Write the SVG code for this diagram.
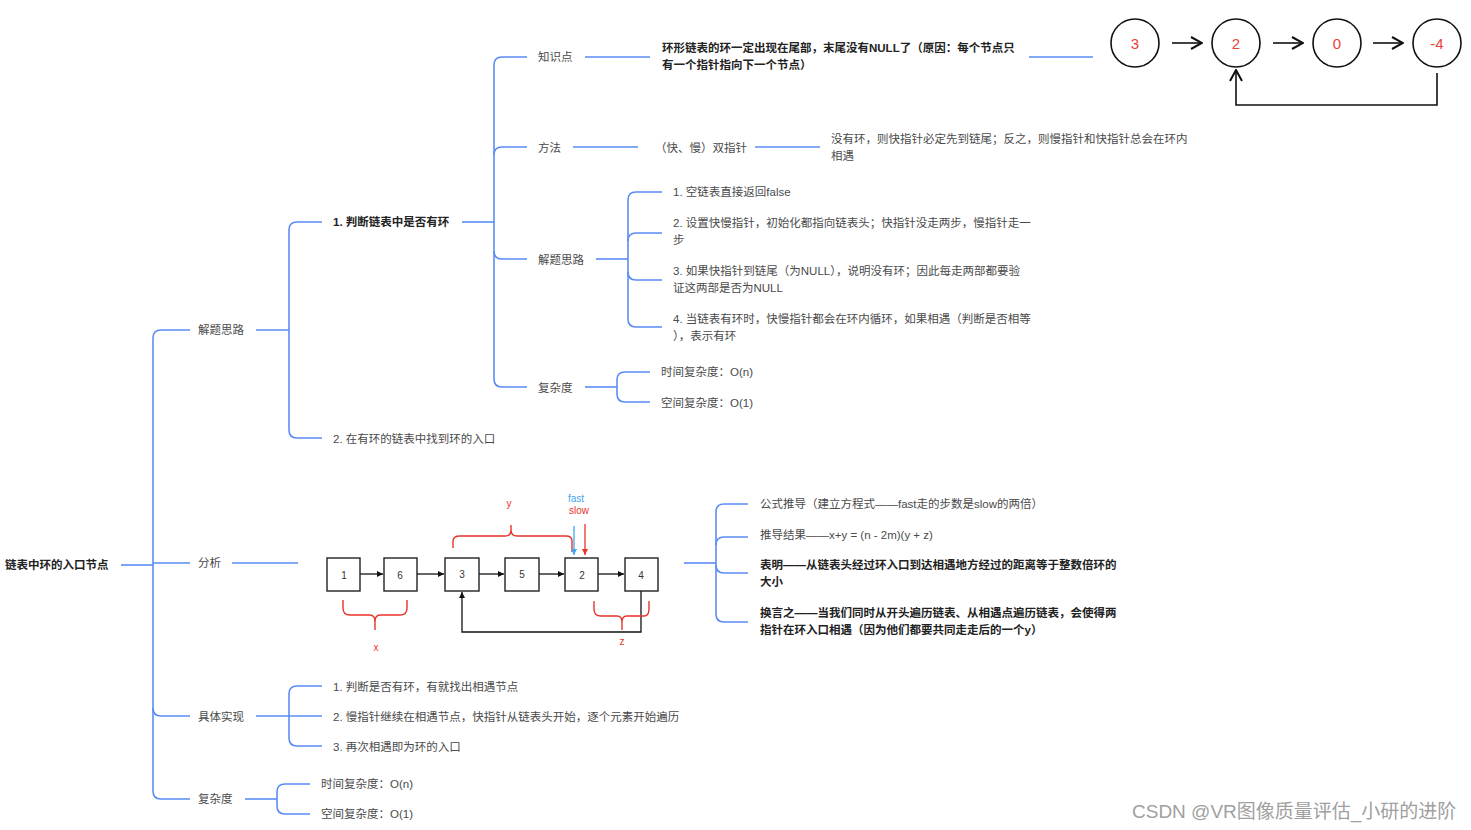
<svg xmlns="http://www.w3.org/2000/svg" width="1471" height="830" viewBox="0 0 1471 830">
<defs>
<style>
.t{font-family:"Liberation Sans","Noto Sans CJK SC",sans-serif;font-size:11.5px;fill:#4a4a4a;dominant-baseline:central}
.b{font-weight:bold;fill:#222}
.c{fill:none;stroke:#5b8cf5;stroke-width:1.6}
.k{fill:none;stroke:#111;stroke-width:1.6}
.num{font-family:"Liberation Sans","Noto Sans CJK SC",sans-serif;font-size:15px;fill:#e8423b;text-anchor:middle;dominant-baseline:central}
.bx{fill:#fff;stroke:#222;stroke-width:1.4}
.bn{font-family:"Liberation Sans",sans-serif;font-size:10px;fill:#333;text-anchor:middle;dominant-baseline:central}
.red{fill:none;stroke:#e8332a;stroke-width:1.4}
.lab{font-family:"Liberation Sans",sans-serif;font-size:10px;fill:#e8332a;text-anchor:middle}
</style>
<marker id="chev2" viewBox="0 0 14 14" refX="13" refY="7" markerWidth="14" markerHeight="14" markerUnits="userSpaceOnUse" orient="auto">
<path d="M2,1 L13,7 L2,13" fill="none" stroke="#111" stroke-width="2"/>
</marker>
<marker id="tri" viewBox="0 0 8 8" refX="8" refY="4" markerWidth="6" markerHeight="6" markerUnits="userSpaceOnUse" orient="auto">
<path d="M0,0 L8,4 L0,8 Z" fill="#111"/>
</marker>
<marker id="triB" viewBox="0 0 8 8" refX="8" refY="4" markerWidth="6" markerHeight="6" markerUnits="userSpaceOnUse" orient="auto">
<path d="M0,0 L8,4 L0,8 Z" fill="#3fa7f0"/>
</marker>
<marker id="triR" viewBox="0 0 8 8" refX="8" refY="4" markerWidth="6" markerHeight="6" markerUnits="userSpaceOnUse" orient="auto">
<path d="M0,0 L8,4 L0,8 Z" fill="#e8332a"/>
</marker>
</defs>
<rect width="1471" height="830" fill="#fff"/>

<g id="connectors">
<path class="c" d="M121,565 H153"/>
<path class="c" d="M153,338 V791"/>
<path class="c" d="M153,338 Q153,330 161,330 H190"/>
<path class="c" d="M153,563 H190"/>
<path class="c" d="M153,708 Q153,716 161,716 H190"/>
<path class="c" d="M153,791 Q153,799 161,799 H190"/>
<path class="c" d="M256,330 H289"/>
<path class="c" d="M289,230 V430"/>
<path class="c" d="M289,230 Q289,222 297,222 H322"/>
<path class="c" d="M289,430 Q289,438 297,438 H322"/>
<path class="c" d="M462,222 H494"/>
<path class="c" d="M494,65 V379"/>
<path class="c" d="M494,65 Q494,57 502,57 H527"/>
<path class="c" d="M494,155 Q494,147 502,147 H527"/>
<path class="c" d="M494,251 Q494,259 502,259 H527"/>
<path class="c" d="M494,379 Q494,387 502,387 H527"/>
<path class="c" d="M585,57 H650"/>
<path class="c" d="M1029,57 H1093"/>
<path class="c" d="M573,147 H638"/>
<path class="c" d="M755,147 H820"/>
<path class="c" d="M596,259 H628"/>
<path class="c" d="M628,200 V319"/>
<path class="c" d="M628,200 Q628,192 636,192 H662"/>
<path class="c" d="M628,241 Q628,233 636,233 H662"/>
<path class="c" d="M628,272 Q628,280 636,280 H662"/>
<path class="c" d="M628,319 Q628,327 636,327 H662"/>
<path class="c" d="M585,387 H617"/>
<path class="c" d="M617,380 Q617,372 625,372 H650"/>
<path class="c" d="M617,380 V394"/>
<path class="c" d="M617,394 Q617,402 625,402 H650"/>
<path class="c" d="M232,563 H298"/>
<path class="c" d="M684,563 H716"/>
<path class="c" d="M716,512 V614"/>
<path class="c" d="M716,512 Q716,504 724,504 H748"/>
<path class="c" d="M716,545 Q716,537 724,537 H748"/>
<path class="c" d="M716,565 Q716,573 724,573 H748"/>
<path class="c" d="M716,614 Q716,622 724,622 H748"/>
<path class="c" d="M256,716 H289"/>
<path class="c" d="M289,694 V738"/>
<path class="c" d="M289,694 Q289,686 297,686 H322"/>
<path class="c" d="M289,716 H322"/>
<path class="c" d="M289,738 Q289,746 297,746 H322"/>
<path class="c" d="M245,799 H277"/>
<path class="c" d="M277,792 V806"/>
<path class="c" d="M277,792 Q277,784 285,784 H310"/>
<path class="c" d="M277,806 Q277,814 285,814 H310"/>
</g>

<g id="root"><text class="t b" x="5" y="565">链表中环的入口节点</text></g>
<g id="n-jtsl"><text class="t" x="198" y="330">解题思路</text></g>
<g id="n-q1"><text class="t b" x="333" y="222">1. 判断链表中是否有环</text></g>
<g id="n-q2"><text class="t" x="333" y="439">2. 在有环的链表中找到环的入口</text></g>
<g id="n-zsd"><text class="t" x="538" y="57">知识点</text></g>
<g id="n-zsd-txt"><text class="t b" x="662" y="48">环形链表的环一定出现在尾部，末尾没有NULL了（原因：每个节点只</text><text class="t b" x="662" y="65">有一个指针指向下一个节点）</text></g>
<g id="n-ff"><text class="t" x="538" y="148">方法</text></g>
<g id="n-ff2"><text class="t" x="655" y="148">（快、慢）双指针</text></g>
<g id="n-ff3"><text class="t" x="831" y="139">没有环，则快指针必定先到链尾；反之，则慢指针和快指针总会在环内</text><text class="t" x="831" y="156">相遇</text></g>
<g id="n-sub"><text class="t" x="538" y="260">解题思路</text></g>
<g id="n-s1"><text class="t" x="673" y="192">1. 空链表直接返回false</text></g>
<g id="n-s2"><text class="t" x="673" y="223">2. 设置快慢指针，初始化都指向链表头；快指针没走两步，慢指针走一</text><text class="t" x="673" y="240">步</text></g>
<g id="n-s3"><text class="t" x="673" y="271">3. 如果快指针到链尾（为NULL），说明没有环；因此每走两部都要验</text><text class="t" x="673" y="288">证这两部是否为NULL</text></g>
<g id="n-s4"><text class="t" x="673" y="319">4. 当链表有环时，快慢指针都会在环内循环，如果相遇（判断是否相等</text><text class="t" x="673" y="336">），表示有环</text></g>
<g id="n-fzd1"><text class="t" x="538" y="388">复杂度</text></g>
<g id="n-fzd1a"><text class="t" x="661" y="372">时间复杂度：O(n)</text></g>
<g id="n-fzd1b"><text class="t" x="661" y="403">空间复杂度：O(1)</text></g>

<g id="n-fx"><text class="t" x="198" y="563">分析</text></g>
<g id="n-r1"><text class="t" x="760" y="504">公式推导（建立方程式——fast走的步数是slow的两倍）</text></g>
<g id="n-r2"><text class="t" x="760" y="535">推导结果——x+y = (n - 2m)(y + z)</text></g>
<g id="n-r3"><text class="t b" x="760" y="565">表明——从链表头经过环入口到达相遇地方经过的距离等于整数倍环的</text><text class="t b" x="760" y="582">大小</text></g>
<g id="n-r4"><text class="t b" x="760" y="613">换言之——当我们同时从开头遍历链表、从相遇点遍历链表，会使得两</text><text class="t b" x="760" y="630">指针在环入口相遇（因为他们都要共同走走后的一个y）</text></g>

<g id="n-jtsx"><text class="t" x="198" y="717">具体实现</text></g>
<g id="n-j1"><text class="t" x="333" y="687">1. 判断是否有环，有就找出相遇节点</text></g>
<g id="n-j2"><text class="t" x="333" y="717">2. 慢指针继续在相遇节点，快指针从链表头开始，逐个元素开始遍历</text></g>
<g id="n-j3"><text class="t" x="333" y="747">3. 再次相遇即为环的入口</text></g>
<g id="n-fzd2"><text class="t" x="198" y="799">复杂度</text></g>
<g id="n-fzd2a"><text class="t" x="321" y="784">时间复杂度：O(n)</text></g>
<g id="n-fzd2b"><text class="t" x="321" y="814">空间复杂度：O(1)</text></g>

<g id="fig-circles">
<ellipse class="k" cx="1135" cy="43" rx="24" ry="24"/>
<ellipse class="k" cx="1236" cy="43" rx="24" ry="24"/>
<ellipse class="k" cx="1337" cy="43" rx="24" ry="24"/>
<ellipse class="k" cx="1437" cy="43" rx="24" ry="24"/>
<text class="num" x="1135" y="43">3</text>
<text class="num" x="1236" y="43">2</text>
<text class="num" x="1337" y="43">0</text>
<text class="num" x="1437" y="43">-4</text>
<path class="k" d="M1172,43 H1202" marker-end="url(#chev2)"/>
<path class="k" d="M1273,43 H1303" marker-end="url(#chev2)"/>
<path class="k" d="M1373,43 H1403" marker-end="url(#chev2)"/>
<path class="k" d="M1437,73 V105 H1236 V70" marker-end="url(#chev2)"/>
</g>

<g id="fig-boxes">
<path d="M360,574 H383" stroke="#111" stroke-width="1.3" marker-end="url(#tri)"/>
<path d="M417,574 H444" stroke="#111" stroke-width="1.3" marker-end="url(#tri)"/>
<path d="M479,574 H504" stroke="#111" stroke-width="1.3" marker-end="url(#tri)"/>
<path d="M539,574 H564" stroke="#111" stroke-width="1.3" marker-end="url(#tri)"/>
<path d="M598,574 H624" stroke="#111" stroke-width="1.3" marker-end="url(#tri)"/>
<path d="M641,591 V632 H462 V592" fill="none" stroke="#111" stroke-width="1.3" marker-end="url(#tri)"/>
<rect class="bx" x="327" y="558" width="33" height="33"/>
<rect class="bx" x="384" y="558" width="33" height="33"/>
<rect class="bx" x="445" y="558" width="34" height="33"/>
<rect class="bx" x="505" y="558" width="34" height="33"/>
<rect class="bx" x="565" y="558" width="33" height="33"/>
<rect class="bx" x="625" y="558" width="33" height="33"/>
<text class="bn" x="344" y="575">1</text>
<text class="bn" x="400" y="575">6</text>
<text class="bn" x="462" y="574">3</text>
<text class="bn" x="522" y="574">5</text>
<text class="bn" x="582" y="575">2</text>
<text class="bn" x="641" y="575">4</text>
<path class="red" d="M343,600 V608 Q343,615 350,615 H370 Q375,615 375,622 V630 M375,630 V622 Q375,615 380,615 H400 Q407,615 407,608 V600"/>
<path class="red" d="M453,548 V541 Q453,536 460,536 H505 Q511,536 511,530 V525 M511,525 V530 Q511,536 517,536 H566 Q572,536 572,541 V552"/>
<path class="red" d="M594,601 V609 Q594,616 601,616 H617 Q622,616 622,622 V630 M622,630 V622 Q622,616 627,616 H644 Q649,616 649,609 V601"/>
<text class="lab" x="376" y="651">x</text>
<text class="lab" x="509" y="507">y</text>
<text class="lab" x="622" y="645">z</text>
<text class="lab" x="576" y="502" style="fill:#3fa7f0">fast</text>
<text class="lab" x="579" y="514">slow</text>
<path d="M574,526 V555" stroke="#3fa7f0" stroke-width="1.3" marker-end="url(#triB)"/>
<path d="M585,524 V555" stroke="#e8332a" stroke-width="1.3" marker-end="url(#triR)"/>
</g>

<text x="1132" y="818" style="font-family:'Liberation Sans','Noto Sans CJK SC',sans-serif;font-size:19px;fill:#a0a0a0">CSDN @VR图像质量评估_小研的进阶</text>
</svg>
